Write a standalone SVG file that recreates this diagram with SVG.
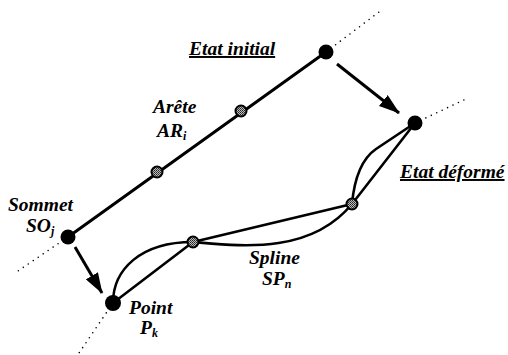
<svg xmlns="http://www.w3.org/2000/svg" width="508" height="355" viewBox="0 0 508 355">
  <style>
    .lbl { font-family: "Liberation Serif", "Times New Roman", serif; font-style: italic; font-weight: bold; font-size: 19.5px; fill: #000; }
    .sub { font-size: 12px; }
    .title { text-decoration: underline; }
    .edge { stroke: #000; stroke-width: 3; fill: none; stroke-linecap: round; }
    .spline { stroke: #000; stroke-width: 2.6; fill: none; stroke-linecap: round; stroke-linejoin: round; }
    .dots { stroke: #000; stroke-width: 1.6; fill: none; stroke-linecap: round; stroke-dasharray: 0 6; }
    .arrow { stroke: #000; stroke-width: 3; fill: none; }
    .vertex { fill: #000; }
    .mid { fill: url(#grain); stroke: #000; stroke-width: 2; }
  </style>
  <defs>
    <!-- dithered grey fill for the intermediate nodes -->
    <pattern id="grain" width="2" height="2" patternUnits="userSpaceOnUse">
      <rect width="2" height="2" fill="#bbb"/>
      <rect width="1" height="1" fill="#222"/>
      <rect x="1" y="1" width="1" height="1" fill="#444"/>
    </pattern>
    <marker id="head" markerUnits="userSpaceOnUse" markerWidth="22" markerHeight="14" refX="20" refY="7" orient="auto">
      <path d="M0,0 L21,7 L0,14 Z" fill="#000"/>
    </marker>
  </defs>

  <!-- dotted extensions beyond the end vertices -->
  <g id="extensions">
    <path class="dots" d="M326,52 L383,9"/>
    <path class="dots" d="M68,237 L15,273"/>
    <path class="dots" d="M415,123 L466,99"/>
    <path class="dots" d="M113,303 L79,353"/>
  </g>

  <g id="connectors">
    <!-- initial edge -->
    <path class="edge" d="M68,237 L326,52"/>
    <!-- spline pieces -->
    <path class="spline" d="M113,303 L193,242"/>
    <path class="spline" d="M113,303 C113,270 140,242 193,242"/>
    <path class="spline" d="M193,242 L352,204"/>
    <path class="spline" d="M193,242 C240,246 310,255 352,204"/>
    <path class="spline" d="M352,204 L415,123"/>
    <path class="spline" d="M352,204 C354,182 360,160 376,149 L415,123"/>
    <!-- displacement arrows -->
    <path class="arrow" d="M337,64 L399,113" marker-end="url(#head)"/>
    <path class="arrow" d="M75,247 L102,293" marker-end="url(#head)"/>
  </g>

  <g id="vertex-top"><circle class="vertex" cx="326" cy="52" r="7.5"/></g>
  <g id="vertex-so"><circle class="vertex" cx="68" cy="237" r="7.5"/></g>
  <g id="vertex-deformed"><circle class="vertex" cx="415" cy="123" r="7.5"/></g>
  <g id="point-pk"><circle class="vertex" cx="113" cy="303" r="8"/></g>
  <g id="edge-mid-1"><circle class="mid" cx="157" cy="172" r="5.5"/></g>
  <g id="edge-mid-2"><circle class="mid" cx="241" cy="111" r="5.5"/></g>
  <g id="spline-node-1"><circle class="mid" cx="193" cy="242" r="5.5"/></g>
  <g id="spline-node-2"><circle class="mid" cx="352" cy="204" r="5.5"/></g>

  <g id="labels">
    <text class="lbl title" x="189" y="55">Etat initial</text>
    <text class="lbl title" x="400" y="178">Etat déformé</text>
    <text class="lbl" x="153" y="113">Arête</text>
    <text class="lbl" x="157" y="137">AR<tspan class="sub" dy="3">i</tspan></text>
    <text class="lbl" x="8" y="211">Sommet</text>
    <text class="lbl" x="26" y="232">SO<tspan class="sub" dy="3">j</tspan></text>
    <text class="lbl" x="129" y="314">Point</text>
    <text class="lbl" x="140" y="334">P<tspan class="sub" dy="3">k</tspan></text>
    <text class="lbl" x="249" y="264">Spline</text>
    <text class="lbl" x="262" y="285">SP<tspan class="sub" dy="3">n</tspan></text>
  </g>
</svg>
